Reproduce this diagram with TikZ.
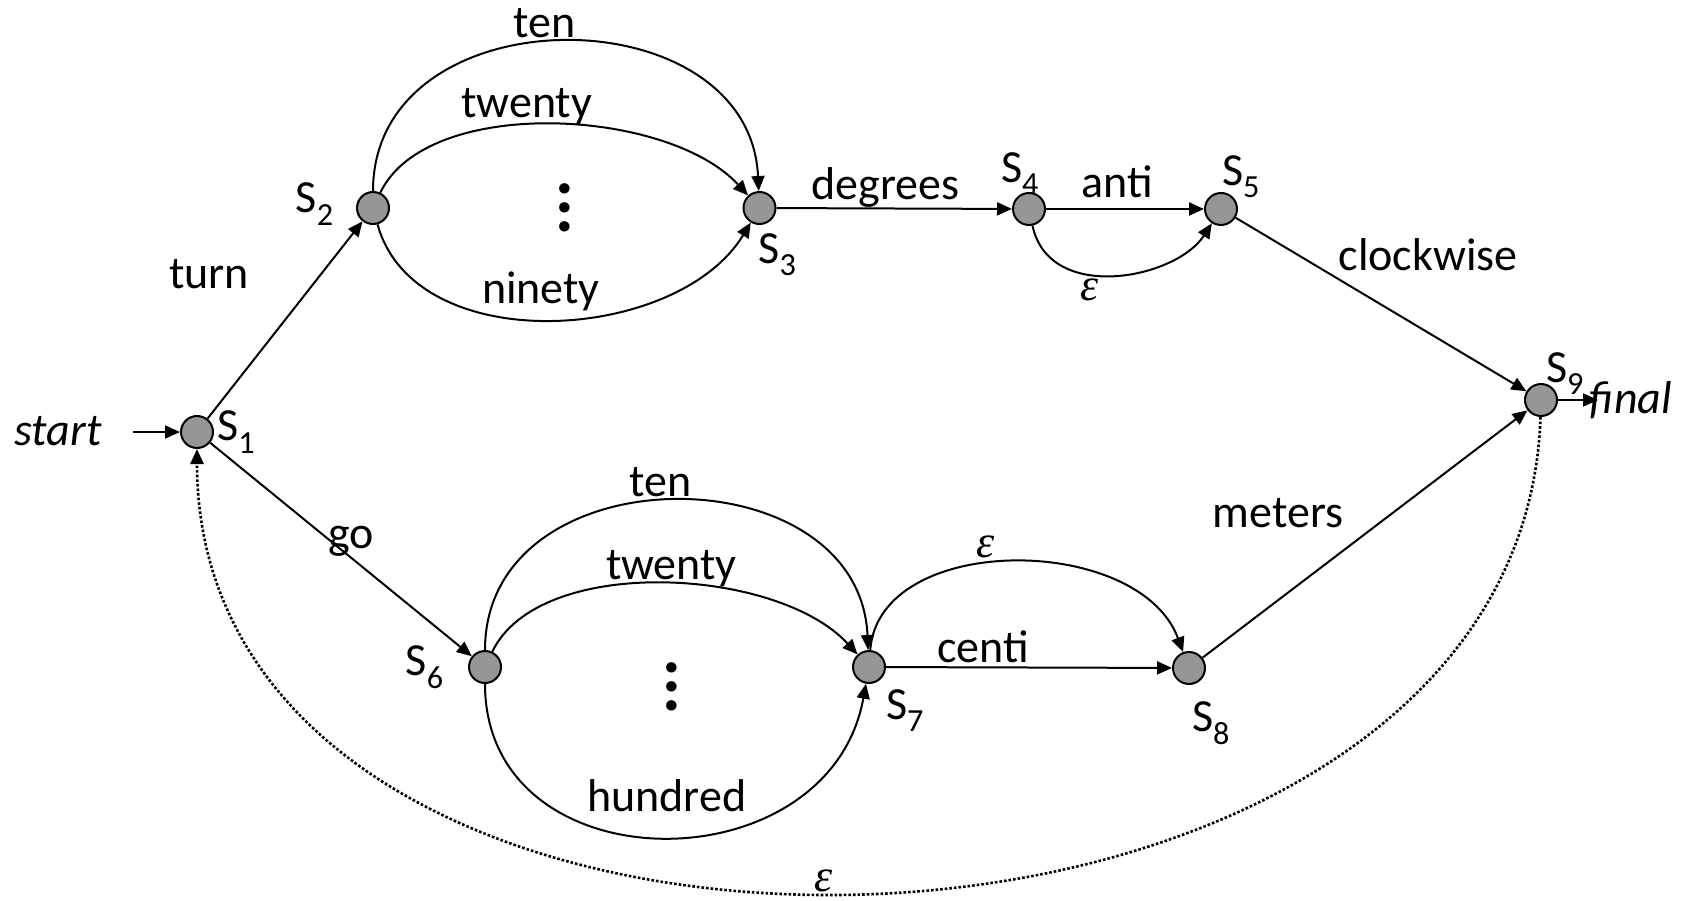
\documentclass[tikz,border=0pt]{standalone}
\usepackage{fontspec}
\setmainfont{Carlito}
\newfontfamily\epsfont{Liberation Serif}
\usetikzlibrary{arrows.meta,positioning}
\definecolor{stateGray}{HTML}{969696}
\newcommand{\bigfont}{\fontsize{46}{55}\selectfont}
\newcommand{\eps}{{\epsfont\itshape ε}}
\newcommand{\tridot}{\rlap{\raisebox{19pt}{.}}\rlap{.}\raisebox{-19pt}{.}}

\begin{document}
\begin{tikzpicture}[
  x=1pt, y=-1pt,
  state/.style={circle, draw, line width=2pt, fill=stateGray, minimum size=32pt, inner sep=0pt},
  lab/.style={inner sep=0pt, anchor=base, font=\bigfont},
  itlab/.style={lab, font=\bigfont\itshape},
  slab/.style={inner sep=0pt, font=\bigfont},
  vdot/.style={inner sep=0pt, font=\fontsize{70}{80}\selectfont\bfseries},
  arr/.style={-{Triangle[length=15pt, width=13pt]}, line width=2pt},
  darr/.style={arr, line width=2.6pt, dash pattern=on 2.6pt off 2pt}
]
\useasboundingbox (0,0) rectangle (1694,901);

% states
\node[state] (s1) at (197,432) {};
\node[state] (s2) at (373,208) {};
\node[state] (s3) at (759.5,208) {};
\node[state] (s4) at (1029,209) {};
\node[state] (s5) at (1221,209) {};
\node[state] (s6) at (485,667) {};
\node[state] (s7) at (869,667) {};
\node[state] (s8) at (1189,668) {};
\node[state] (s9) at (1541,400) {};

% state names
\node[slab, right=3pt of s1] (ls1) {S\textsubscript{1}};
\node[slab, left=22pt of s2, yshift=4pt] (ls2) {S\textsubscript{2}};
\node[slab, below=8pt of s3, xshift=18pt] (ls3) {S\textsubscript{3}};
\node[slab, above=-3pt of s4, xshift=-9pt] (ls4) {S\textsubscript{4}};
\node[slab, above=-6pt of s5, xshift=20pt] (ls5) {S\textsubscript{5}};
\node[slab, left=24pt of s6] (ls6) {S\textsubscript{6}};
\node[slab, below=5pt of s7, xshift=36pt] (ls7) {S\textsubscript{7}};
\node[slab, below=16pt of s8, xshift=22pt] (ls8) {S\textsubscript{8}};
\node[slab, above=-12pt of s9, xshift=24pt] (ls9) {S\textsubscript{9}};

% start / final
\node[itlab] (start) at (58,445) {start};
\coordinate (startin) at (133,432);
\node[itlab] (final) at (1631,413) {final};
\coordinate (finalpt) at (1598,400);

\node[vdot] (dots1) at (565,208) {\tridot};
\node[vdot] (dots2) at (672,687) {\tridot};

\draw[arr] (startin) -- (s1);
\draw[arr] (s9) -- (finalpt);

% upper branch
\draw[arr] (s1) -- node[lab, xshift=-76pt, yshift=32pt] (lturn) {turn} (s2);
\draw[arr] (s2) .. controls +(0,-216) and +(-10,-216) .. (s3)
  node[lab, midway, xshift=-18pt, yshift=4pt] (lten1) {ten};
\draw[arr] (s2) .. controls +(54,-113) and +(-91.5,-100) .. (s3)
  node[lab, midway, xshift=-25pt, yshift=7pt] (ltwenty1) {twenty};
\draw[arr] (s2) .. controls +(42,152) and +(-81.5,135) .. (s3)
  node[lab, midway, xshift=-10pt, yshift=16pt] (lninety) {ninety};
\draw[arr] (s3) -- node[lab, xshift=-9pt, yshift=9pt] (ldeg) {degrees} (s4);
\draw[arr] (s4) -- node[lab, xshift=-8pt, yshift=11pt] (lanti) {anti} (s5);
\draw[arr] (s4) .. controls +(20,95) and +(-45,70) .. (s5)
  node[lab, midway, xshift=-25pt, yshift=-26pt] (leps1) {\eps};
\draw[arr] (s5) -- node[lab, xshift=47pt, yshift=34pt] (lclock) {clockwise} (s9);

% lower branch
\draw[arr] (s1) -- node[lab, xshift=10pt, yshift=1pt] (lgo) {go} (s6);
\draw[arr] (s6) .. controls +(0,-216) and +(-10,-216) .. (s7)
  node[lab, midway, xshift=-13pt, yshift=4pt] (lten2) {ten};
\draw[arr] (s6) .. controls +(54,-113) and +(-91.5,-100) .. (s7)
  node[lab, midway, xshift=9pt, yshift=4pt] (ltwenty2) {twenty};
\draw[arr] (s6) .. controls +(0,221) and +(-40,221) .. (s7)
  node[lab, midway, xshift=5pt, yshift=25pt] (lhundred) {hundred};
\draw[arr] (s7) .. controls +(10,-135) and +(-50,-135) .. (s8)
  node[lab, midway, xshift=-28pt, yshift=5pt] (leps2) {\eps};
\draw[arr] (s7) -- node[lab, xshift=-46pt, yshift=5pt] (lcenti) {centi} (s8);
\draw[arr] (s8) -- node[lab, xshift=-87pt, yshift=7pt] (lmeters) {meters} (s9);

% back loop
\draw[darr] (s9) .. controls +(-20,630) and +(0,630) .. (s1)
  node[lab, midway, xshift=-38pt, yshift=1pt] (leps3) {\eps};
\end{tikzpicture}
\end{document}
